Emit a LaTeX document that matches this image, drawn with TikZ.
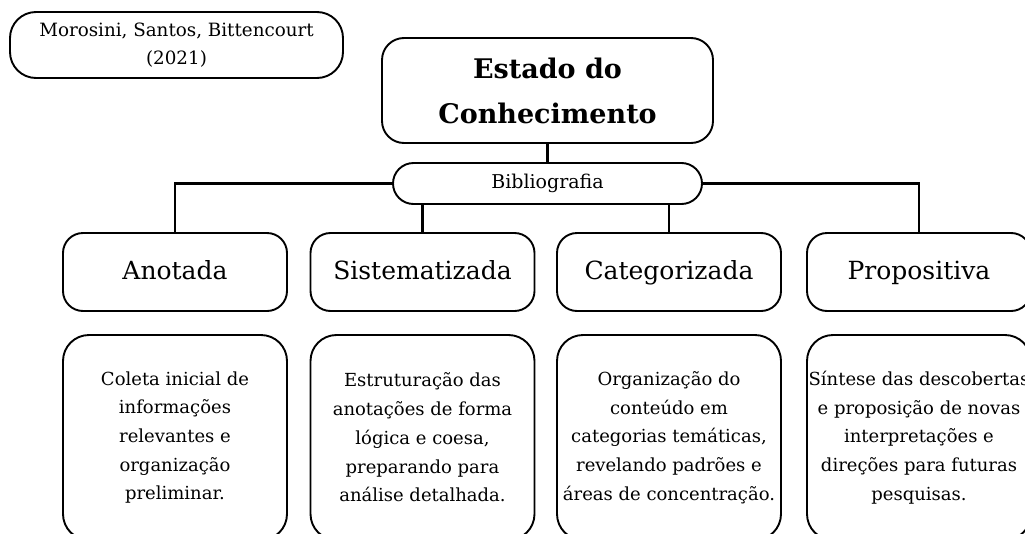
\documentclass[tikz,border=0pt]{standalone}
\usepackage{fontspec}
\setmainfont{DejaVu Serif}
\begin{document}
\begin{tikzpicture}[x=1pt,y=-1pt,
  box/.style={draw=black, line width=1.9pt, rounded corners=#1, inner sep=0pt, align=center, fill=white},
  box/.default=20pt,
  link/.style={draw=black, line width=2.3pt},
  cat/.style={box=20pt, minimum width=224pt, minimum height=78pt, text height=19pt, text depth=5pt, font=\fontsize{25}{30}\selectfont},
  desc/.style={box=26pt, minimum width=224pt, minimum height=205pt, font=\fontsize{18}{28.7}\selectfont}
]
\clip (0,0) rectangle (1025,533);
\fill[white] (0,0) rectangle (1025,533);

\node[box=26pt, minimum width=333pt, minimum height=66pt, font=\fontsize{18.3}{28}\selectfont] (cite) at (176.5,45) {Morosini, Santos, Bittencourt\\(2021)};
\node[box=22pt, minimum width=331pt, minimum height=105pt, font=\fontsize{27}{45}\selectfont\bfseries] (title) at (547.5,90.5) {Estado do\\Conhecimento};
\node[box=20.5pt, minimum width=309pt, minimum height=41pt, font=\fontsize{19}{22}\selectfont] (bib) at (547.5,183.5) {Bibliografia};

\node[cat] (a2) at (175,272) {Anotada};
\node[cat] (b2) at (422.5,272) {Sistematizada};
\node[cat] (c2) at (669,272) {Categorizada};
\node[cat] (d2) at (919,272) {Propositiva};

\node[desc] (a3) at (175,437.5) {Coleta inicial de\\informações\\relevantes e\\organização\\preliminar.};
\node[desc] (b3) at (422.5,437.5) {Estruturação das\\anotações de forma\\lógica e coesa,\\preparando para\\análise detalhada.};
\node[desc] (c3) at (669,437.5) {Organização do\\conteúdo em\\categorias temáticas,\\revelando padrões e\\áreas de concentração.};
\node[desc] (d3) at (919,437.5) {Síntese das descobertas\\e proposição de novas\\interpretações e\\direções para futuras\\pesquisas.};

\draw[link] (title.south) -- (bib.north);
\draw[link] (bib.west) -| (a2.north);
\draw[link] (bib.east) -| (d2.north);
\draw[link] (bib.south -| b2.north) -- (b2.north);
\draw[link] (bib.south -| c2.north) -- (c2.north);
\end{tikzpicture}
\end{document}
